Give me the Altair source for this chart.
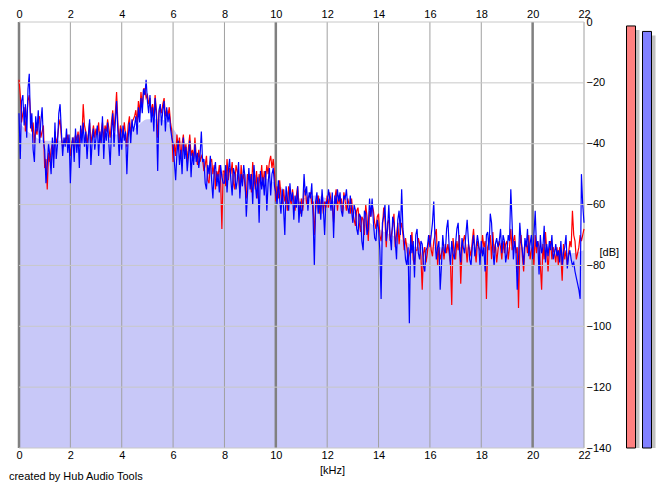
import altair as alt
import pandas as pd

# ---- data (dB per 0.05 kHz bin, 0 .. 22 kHz) ----
BLUE = [
    -30, -45, -26, -24, -34, -27, -38, -22, -17, -35, -30, -42, -46, -31, -36, -29, -40, -33, -28, -39,
    -42, -53, -47, -40, -44, -50, -38, -48, -33, -45, -40, -30, -27, -36, -44, -38, -41, -35, -43, -37,
    -53, -41, -38, -46, -35, -43, -37, -48, -34, -40, -33, -41, -36, -45, -38, -32, -47, -39, -35, -42,
    -38, -34, -44, -36, -40, -31, -45, -35, -39, -33, -40, -47, -36, -30, -41, -33, -26, -36, -44, -35,
    -42, -34, -39, -36, -50, -38, -33, -40, -32, -36, -34, -31, -37, -28, -33, -25, -30, -22, -24, -19,
    -26, -30, -24, -33, -28, -36, -25, -31, -49, -29, -27, -34, -29, -26, -36, -28, -33, -30, -35, -38,
    -40, -46, -52, -43, -39, -47, -42, -50, -38, -45, -41, -49, -44, -39, -51, -43, -47, -40, -46, -43,
    -48, -44, -36, -46, -45, -53, -55, -47, -50, -44, -52, -58, -49, -46, -54, -50, -56, -47, -51, -53,
    -53, -47, -56, -49, -45, -52, -57, -48, -50, -55, -52, -46, -58, -50, -54, -47, -51, -64, -56, -48,
    -55, -50, -60, -47, -53, -58, -51, -66, -49, -55, -51, -57, -49, -62, -53, -48, -57, -50, -48, -54,
    -56, -60, -52, -58, -63, -55, -61, -70, -54, -58, -62, -53, -59, -56, -65, -57, -61, -54, -66, -59,
    -64, -60, -50, -57, -54, -62, -56, -58, -53, -64, -80, -59, -56, -63, -58, -65, -55, -61, -70, -59,
    -60, -55, -58, -62, -56, -71, -57, -60, -55, -59, -56, -62, -64, -57, -58, -55, -61, -63, -57, -62,
    -66, -60, -62, -68, -70, -63, -64, -72, -75, -62, -63, -70, -68, -58, -64, -58, -66, -71, -72, -65,
    -68, -75, -91, -66, -64, -60, -72, -68, -60, -70, -75, -64, -66, -72, -78, -65, -62, -70, -55, -68,
    -72, -78, -80, -74, -99, -70, -76, -72, -84, -70, -68, -76, -78, -72, -73, -80, -82, -75, -74, -70,
    -74, -70, -66, -59, -72, -78, -74, -72, -88, -80, -70, -75, -76, -68, -65, -74, -80, -72, -76, -78,
    -73, -68, -66, -75, -79, -71, -74, -76, -70, -65, -72, -78, -80, -74, -70, -77, -74, -70, -73, -80,
    -72, -77, -74, -82, -70, -69, -75, -63, -66, -75, -80, -73, -71, -74, -72, -68, -76, -70, -72, -79,
    -76, -70, -72, -55, -66, -78, -72, -75, -88, -78, -66, -72, -75, -80, -71, -74, -68, -77, -73, -70,
    -78, -70, -62, -74, -72, -83, -70, -76, -74, -67, -79, -73, -77, -72, -75, -70, -78, -76, -73, -77,
    -75, -79, -72, -80, -76, -74, -70, -81, -77, -75, -78, -80, -79, -82, -84, -86, -88, -91, -50, -60,
    -66,
]
RED = [
    -19, -24, -33, -30, -28, -36, -31, -26, -24, -30, -36, -33, -40, -35, -37, -32, -31, -38, -36, -34,
    -48, -45, -55, -43, -46, -42, -40, -45, -36, -40, -38, -34, -32, -38, -41, -40, -38, -40, -37, -40,
    -44, -40, -38, -42, -37, -39, -36, -41, -35, -38, -27, -34, -36, -40, -37, -33, -40, -37, -34, -38,
    -35, -37, -33, -40, -36, -33, -39, -34, -36, -32, -35, -38, -33, -29, -36, -30, -23, -33, -40, -34,
    -36, -38, -33, -37, -41, -34, -31, -37, -33, -32, -31, -29, -33, -26, -30, -23, -28, -22, -22, -25,
    -24, -27, -25, -30, -27, -31, -24, -29, -38, -30, -28, -30, -27, -25, -31, -29, -31, -28, -33, -36,
    -46, -40, -44, -37, -42, -38, -45, -40, -37, -43, -40, -46, -41, -37, -44, -42, -45, -38, -44, -47,
    -42, -46, -44, -45, -49, -47, -44, -52, -53, -46, -45, -50, -47, -55, -49, -51, -47, -52, -68, -49,
    -49, -54, -45, -52, -48, -50, -46, -53, -55, -47, -49, -51, -56, -47, -52, -50, -54, -58, -50, -52,
    -50, -56, -46, -51, -55, -49, -58, -50, -53, -47, -54, -49, -52, -47, -50, -46, -44, -48, -45, -50,
    -59, -54, -58, -52, -57, -60, -55, -59, -57, -62, -54, -58, -60, -55, -59, -62, -57, -54, -60, -63,
    -58, -62, -56, -55, -60, -58, -57, -56, -60, -59, -70, -62, -58, -57, -63, -60, -57, -63, -59, -61,
    -57, -61, -56, -59, -60, -66, -58, -55, -62, -57, -60, -58, -63, -56, -59, -62, -58, -60, -63, -58,
    -63, -65, -67, -62, -61, -66, -69, -64, -65, -70, -60, -64, -72, -62, -64, -60, -62, -66, -68, -64,
    -63, -70, -72, -68, -61, -65, -74, -66, -65, -72, -70, -67, -63, -74, -70, -66, -73, -68, -66, -70,
    -75, -71, -74, -78, -76, -74, -69, -78, -80, -75, -75, -71, -73, -77, -88, -76, -74, -79, -76, -72,
    -70, -75, -77, -72, -70, -68, -80, -74, -78, -76, -74, -78, -73, -76, -73, -76, -79, -93, -71, -75,
    -78, -72, -75, -70, -86, -75, -72, -70, -74, -79, -73, -75, -77, -72, -68, -75, -79, -72, -74, -75,
    -76, -70, -74, -72, -91, -74, -72, -70, -78, -69, -76, -73, -79, -75, -72, -74, -78, -72, -76, -73,
    -72, -78, -74, -68, -75, -72, -70, -76, -74, -94, -74, -70, -77, -82, -74, -72, -76, -70, -78, -75,
    -74, -80, -70, -76, -72, -74, -80, -88, -73, -78, -69, -75, -82, -75, -72, -78, -74, -76, -79, -74,
    -80, -74, -77, -85, -73, -78, -75, -80, -76, -72, -74, -62, -70, -72, -78, -76, -74, -70, -72, -70,
    -68,
]
# smoothed level of the shaded area (per 0.5 kHz)
FILL = [
    -33, -37, -39, -39, -38, -37, -37, -37, -37, -35,
    -32, -32, -35, -42, -44, -48, -50, -50, -50, -51,
    -53, -56, -58, -57, -58, -60, -62, -65, -68, -70,
    -72, -74, -74, -74, -74, -74, -74, -74, -74, -74,
    -74, -74, -75, -76, -75,
]
X_TICKS = [0, 2, 4, 6, 8, 10, 12, 14, 16, 18, 20, 22]
MAJOR_X = [0, 10, 20]
Y_TICKS = [0, -20, -40, -60, -80, -100, -120, -140]
METER_CH = ["L", "R"]
METER_DB = [-1.3, -3.1]
METER_COLORS = ["#ff8080", "#8080ff"]

spec_df = pd.DataFrame({
    "f": [round(i * 0.05, 2) for i in range(len(BLUE))],
    "blue": BLUE,
    "red": RED,
})
fill_df = pd.DataFrame({"f": [i * 0.5 for i in range(len(FILL))], "db": FILL})
xgrid_df = pd.DataFrame({"x": X_TICKS})
major_df = pd.DataFrame({"x": MAJOR_X})
ygrid_df = pd.DataFrame({"y": Y_TICKS})
meter_df = pd.DataFrame({"ch": METER_CH, "db": METER_DB, "color": METER_COLORS})

FONT = "Liberation Sans"
x_scale = alt.Scale(domain=[0, 22], nice=False, zero=False)
y_scale = alt.Scale(domain=[-140, 0], nice=False, zero=False)

fill = alt.Chart(fill_df).mark_area(color="#c8c8f8", opacity=1, interpolate="monotone").encode(
    x=alt.X("f:Q", scale=x_scale,
            axis=alt.Axis(orient="top", values=X_TICKS, grid=False, ticks=False, domain=False,
                          labelPadding=3, labelFlush=False, labelOverlap=False, title=None)),
    y=alt.Y("db:Q", scale=y_scale,
            axis=alt.Axis(orient="right", values=Y_TICKS, grid=False, ticks=False, domain=False,
                          labelPadding=2, labelOverlap=False, labelFlush=False,
                          title="[dB]", titleAngle=0, titleX=15, titleY=230,
                          titleAlign="left", titleBaseline="middle")),
    y2=alt.datum(-140),
)

vgrid = alt.Chart(xgrid_df).mark_rule(color="#a0a0a0", strokeWidth=1).encode(
    x=alt.X("x:Q", scale=x_scale,
            axis=alt.Axis(orient="bottom", values=X_TICKS, grid=False, ticks=False, domain=False,
                          labelPadding=7, labelBaseline="middle", labelFlush=False,
                          labelOverlap=False,
                          title="[kHz]", titleX=313, titleY=22, titleBaseline="middle")),
)
major = alt.Chart(major_df).mark_rule(color="#808080", strokeWidth=2.5).encode(
    x=alt.X("x:Q", scale=x_scale, axis=None),
)
hgrid = alt.Chart(ygrid_df).mark_rule(color="#c8c8c8", strokeWidth=1).encode(
    y=alt.Y("y:Q", scale=y_scale, axis=None),
)
red = alt.Chart(spec_df).mark_line(color="#ff0000", strokeWidth=1.2).encode(
    x=alt.X("f:Q", scale=x_scale, axis=None),
    y=alt.Y("red:Q", scale=y_scale, axis=None),
)
blue = alt.Chart(spec_df).mark_line(color="#0000ff", strokeWidth=1.2).encode(
    x=alt.X("f:Q", scale=x_scale, axis=None),
    y=alt.Y("blue:Q", scale=y_scale, axis=None),
)

main = alt.layer(fill, vgrid, major, red, blue, hgrid).resolve_axis(
    x="independent", y="independent"
).properties(width=565, height=426)

base_m = alt.Chart(meter_df).encode(
    x=alt.X("ch:N", sort=METER_CH, axis=None, scale=alt.Scale(paddingInner=0, paddingOuter=0)),
    y=alt.Y("db:Q", scale=y_scale, axis=None),
    y2=alt.datum(-140),
)
shadow = base_m.mark_bar(size=9, color="#c0c0c0", xOffset=4, yOffset=4)
bars = base_m.mark_bar(size=9, stroke="black", strokeWidth=1).encode(
    color=alt.Color("color:N", scale=None)
)
meter = alt.layer(shadow, bars).properties(width=32, height=426)

chart = alt.hconcat(main, meter, spacing=4).properties(
    padding={"left": 0, "top": 0, "right": 0, "bottom": 0},
    title=alt.TitleParams("created by Hub Audio Tools", orient="bottom", anchor="start",
                          fontSize=11, font=FONT, fontWeight="normal", color="black",
                          dx=-7, dy=-8),
).configure_view(stroke=None).configure_axis(
    labelFont=FONT, labelFontSize=11, labelColor="black",
    titleFont=FONT, titleFontSize=11, titleColor="black", titleFontWeight="normal",
)

chart.save("out.html", embed_options={"renderer": "svg", "actions": False})
